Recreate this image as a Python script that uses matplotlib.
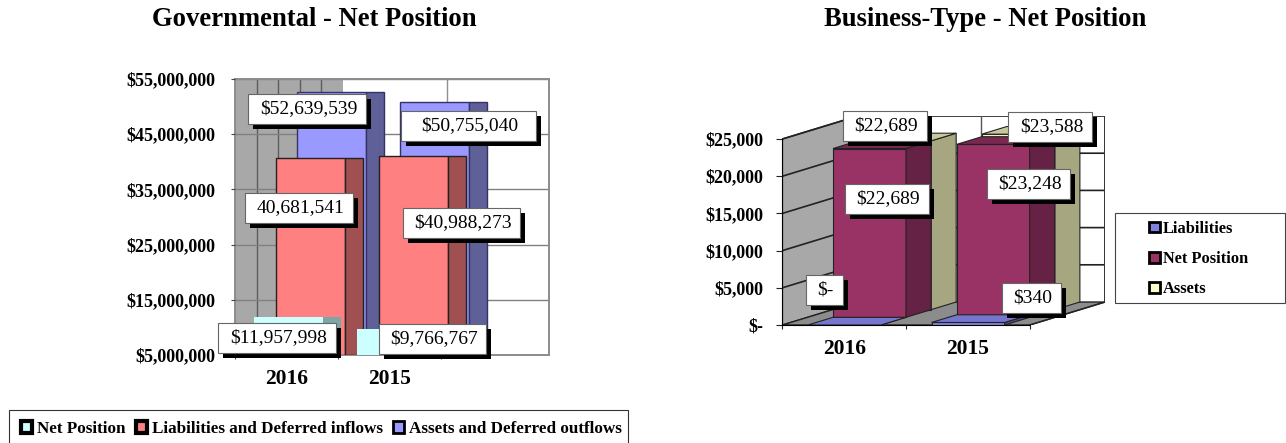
import matplotlib
matplotlib.use('Agg')
import matplotlib.pyplot as plt
from matplotlib.patches import Patch, Rectangle

plt.rcParams['font.family'] = ['Liberation Serif', 'DejaVu Serif']

W, H = 1286, 443

years = ['2016', '2015']

# left chart
gov_net = [11957998, 9766767]
gov_liab = [40681541, 40988273]
gov_assets = [52639539, 50755040]
gov_ticks = [5000000, 15000000, 25000000, 35000000, 45000000, 55000000]
gov_legend = ['Net Position', 'Liabilities and Deferred inflows', 'Assets and Deferred outflows']

# right chart
bus_liab = [0, 340]
bus_net = [22689, 23248]
bus_assets = [22689, 23588]
bus_ticks = [0, 5000, 10000, 15000, 20000, 25000]
bus_legend = ['Liabilities', 'Net Position', 'Assets']

fig = plt.figure(figsize=(W / 100, H / 100), dpi=100)


def axes_px(x0, y0, x1, y1):
    return fig.add_axes([x0 / W, 1 - y1 / H, (x1 - x0) / W, (y1 - y0) / H])


def money(v):
    return '$-' if v == 0 else '${:,}'.format(v)


# ---------- Governmental ----------
ax1 = axes_px(235, 79, 549, 355)
ax1.set_xlim(0, 3.05)
ax1.set_ylim(5000000, 55000000)

ax1.axvspan(0, 1.05, color='#a8a8a8', zorder=0, lw=0)
for gx in [0.21, 0.42, 0.63, 0.84]:
    ax1.plot([gx, gx], [5000000, 55000000], color='#5c5c5c', lw=1, zorder=1)
ax1.plot([2.06, 2.06], [5000000, 55000000], color='#909090', lw=1, zorder=1)
for t in gov_ticks:
    ax1.plot([0, 3.05], [t, t], color='#808080', lw=1, zorder=1)

bar_w = 0.67
side_w = 0.17
offs = [0.187, 0.40, 0.605]  # net, liabilities, assets
gov_series = [gov_net, gov_liab, gov_assets]
front = ['#ccffff', '#ff8080', '#9999ff']
side = ['#7fa6a6', '#a05050', '#606099']
edge = ['none', '#222222', '#333366']

z = 2
for c in range(2):
    for s in [2, 1, 0]:
        v = gov_series[s][c] - 5000000
        ax1.bar(c + offs[s], v, bar_w, bottom=5000000, align='edge', color=front[s],
                edgecolor=edge[s], lw=1, zorder=z)
        ax1.bar(c + offs[s] + bar_w, v, side_w, bottom=5000000, align='edge', color=side[s],
                edgecolor=edge[s], lw=1, zorder=z)
        z += 1

ax1.set_yticks(gov_ticks, ['${:,}'.format(t) for t in gov_ticks], fontweight='bold', fontsize=13)
ax1.set_xticks([0, 1, 2], ['', '', ''])
ax1.set_xticks([0.5, 1.5], years, minor=True, fontweight='bold', fontsize=15.5)
ax1.tick_params(axis='y', length=3, pad=11, color='#444444')
ax1.tick_params(axis='x', which='major', length=3, color='#444444')
ax1.tick_params(axis='x', which='minor', length=0, pad=10)
for sp in ax1.spines.values():
    sp.set_color('#8c8c8c')
    sp.set_linewidth(1.4)
    sp.set_zorder(1)

# ---------- Business-Type ----------
ax2 = axes_px(782.4, 116, 1105, 325)
x_max = 2.608
y_max = 28091
ax2.set_xlim(0, x_max)
ax2.set_ylim(0, y_max)
ax2.patch.set_visible(False)

dx, dy = 0.203, 1030    # depth of one series row
back_x, back_y = 3 * dx, 3 * dy

ax2.fill([0, back_x, back_x, 0], [0, back_y, 25000 + back_y, 25000], color='#a8a8a8', ec='#222222', lw=1, zorder=1)
ax2.fill([0, back_x, 2 + back_x, 2], [0, back_y, back_y, 0], color='#8c8c8c', ec='#222222', lw=1, zorder=1)
for t in bus_ticks[1:]:
    ax2.plot([0, back_x, 2 + back_x], [t, t + back_y, t + back_y], color='#222222', lw=1.2, zorder=1)
ax2.plot([back_x, back_x], [back_y, 25000 + back_y], color='#222222', lw=1, zorder=1)
ax2.plot([1 + back_x, 1 + back_x], [back_y, 25000 + back_y], color='#555555', lw=1, zorder=1)
ax2.plot([2 + back_x, 2 + back_x], [back_y, 25000 + back_y], color='#333333', lw=1.4, zorder=1)
ax2.plot([2, 2 + back_x], [0, back_y], color='#222222', lw=1, zorder=1)

start = 0.206
w3 = 0.59
bus_series = [bus_liab, bus_net, bus_assets]
face3 = ['#8080e0', '#993366', '#ffffcc']
side3 = ['#50508c', '#662244', '#a6a680']
top3 = ['#7676cc', '#7a2850', '#c8c89c']

z = 2
for c in range(2):
    for s in [2, 1, 0]:
        v = bus_series[s][c]
        x0 = c + start + s * dx
        y0 = s * dy
        x1 = x0 + w3
        ax2.fill([x0, x1, x1, x0], [y0, y0, y0 + v, y0 + v], color=face3[s], ec='#222222', lw=0.8, zorder=z)
        ax2.fill([x1, x1 + dx, x1 + dx, x1], [y0, y0 + dy, y0 + dy + v, y0 + v], color=side3[s], ec='#222222', lw=0.8, zorder=z)
        ax2.fill([x0, x1, x1 + dx, x0 + dx], [y0 + v, y0 + v, y0 + v + dy, y0 + v + dy], color=top3[s], ec='#222222', lw=0.8, zorder=z)
        z += 1

ax2.set_yticks(bus_ticks, [money(t) for t in bus_ticks], fontweight='bold', fontsize=13)
ax2.set_xticks([0, 1, 2], ['', '', ''])
ax2.set_xticks([0.5, 1.5], years, minor=True, fontweight='bold', fontsize=15.5)
ax2.tick_params(axis='y', length=4, pad=10, color='#222222')
ax2.tick_params(axis='x', which='major', length=3, color='#222222')
ax2.tick_params(axis='x', which='minor', length=0, pad=10)
ax2.spines['top'].set_visible(False)
ax2.spines['right'].set_visible(False)
ax2.spines['left'].set_bounds(0, 25000)
ax2.spines['bottom'].set_bounds(0, 2)

# ---------- overlay in pixels: titles, data labels, legend boxes ----------
ov = fig.add_axes([0, 0, 1, 1], zorder=10)
ov.set_xlim(0, W)
ov.set_ylim(H, 0)
ov.axis('off')

ov.text(314, 19.5, 'Governmental - Net Position', ha='center', va='center', fontweight='bold', fontsize=19.2)
ov.text(985.5, 19.5, 'Business-Type - Net Position', ha='center', va='center', fontweight='bold', fontsize=19.2)


def data_label(x0, y0, x1, y1, txt):
    ov.add_patch(Rectangle((x0 + 5, y0 + 5), x1 - x0, y1 - y0, fc='black', ec='none'))
    ov.add_patch(Rectangle((x0, y0), x1 - x0, y1 - y0, fc='white', ec='#666666', lw=0.8))
    ov.text((x0 + x1) / 2 + 1.5, (y0 + y1) / 2, txt, ha='center', va='center', fontsize=14)


data_label(248, 94, 366, 124, money(gov_assets[0]))
data_label(245, 193, 353, 223, '{:,}'.format(gov_liab[0]))
data_label(218, 323, 336, 353, money(gov_net[0]))
data_label(401, 111, 536, 141, money(gov_assets[1]))
data_label(402.5, 208, 520, 238, money(gov_liab[1]))
data_label(378.5, 324, 486, 354, money(gov_net[1]))

data_label(842.7, 111, 926.7, 141, money(bus_assets[0]))
data_label(845, 184, 928.5, 214, money(bus_net[0]))
data_label(805.7, 275, 843, 305, money(bus_liab[0]))
data_label(1008, 112, 1092, 142, money(bus_assets[1]))
data_label(986.5, 169, 1069.6, 199, money(bus_net[1]))
data_label(1001.6, 283, 1060.8, 313, money(bus_liab[1]))

# legends, boxes drawn by hand because the entries sit off-centre
ov.add_patch(Rectangle((9, 410), 619, 45, fc='white', ec='#333333', lw=0.8))
ov.add_patch(Rectangle((1115, 213), 170, 90, fc='white', ec='#444444', lw=0.8))

h1 = [Patch(fc=front[0], ec='black', lw=3), Patch(fc=front[1], ec='black', lw=3),
      Patch(fc=front[2], ec='black', lw=2)]
leg1 = ov.legend(h1, gov_legend, ncol=3, frameon=False, loc='center left',
                 bbox_to_anchor=(21 / W, 1 - 429 / H), borderpad=0, borderaxespad=0,
                 handlelength=0.65, handleheight=0.65, handletextpad=0.28, columnspacing=0.6,
                 prop={'weight': 'bold', 'size': 12.35})

h2 = [Patch(fc=face3[i], ec='black', lw=2) for i in range(3)]
leg2 = ov.legend(h2, bus_legend, ncol=1, frameon=False, loc='center left',
                 bbox_to_anchor=(1149 / W, 1 - 259 / H), borderpad=0, borderaxespad=0,
                 handlelength=0.65, handleheight=0.65, handletextpad=0.2, labelspacing=0.87,
                 prop={'weight': 'bold', 'size': 11.8})
ov.add_artist(leg1)

fig.savefig('out.png', dpi=100)
